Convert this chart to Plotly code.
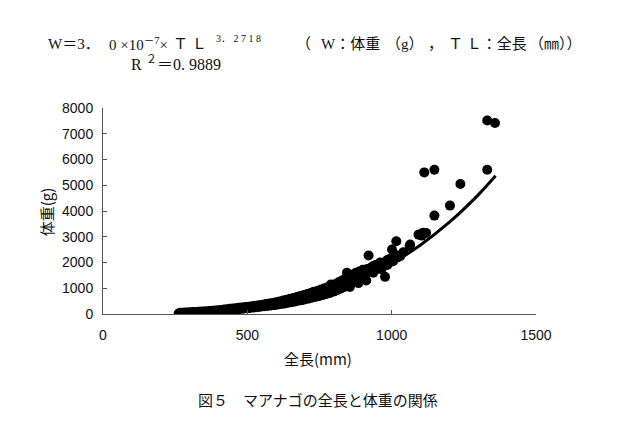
import plotly.graph_objects as go

# Observed data: total length (mm) and body weight (g)
TL = [262, 268, 272, 276, 280, 285, 290, 294, 298, 303, 308, 312, 317, 322, 327, 331, 336, 341, 346, 350,
      355, 360, 365, 370, 375, 380, 385, 390, 395, 400, 405, 410, 415, 420, 425, 430, 435, 440, 445, 450,
      455, 460, 465, 470, 475, 480, 486, 492, 498, 504, 510, 516, 522, 528, 534, 540, 546, 552, 558, 564,
      570, 576, 582, 588, 594, 600, 606, 612, 618, 624, 630, 636, 642, 648, 654, 660, 666, 672, 678, 684,
      690, 696, 702, 708, 714, 720, 726, 732, 738, 744, 750, 756, 762, 768, 774, 780, 786, 792, 798, 804,
      810, 816, 822, 828, 834, 840, 846, 852, 858, 864, 870, 876, 882, 888, 894, 900, 906, 912, 920, 920,
      928, 936, 944, 952, 960, 968, 977, 985, 993, 1001, 1008, 1016, 1029, 1040, 1062, 1093, 1104, 1119,
      1148, 1113, 1148, 1202, 1238, 1331, 1331, 1358,
      845, 855, 870, 885, 905, 915, 925, 935, 945, 955, 965, 975, 985, 995, 1005, 1012, 1020, 1064, 1109,
      760, 790, 820, 700, 730]
W = [20, 45, 25, 50, 30, 55, 35, 60, 40, 65, 45, 75, 50, 80, 60, 85, 65, 95, 70, 100,
     75, 105, 85, 115, 90, 125, 100, 135, 110, 150, 120, 160, 130, 170, 140, 185, 150, 200, 160, 210,
     170, 225, 180, 240, 195, 255, 205, 270, 220, 285, 235, 300, 250, 320, 265, 340, 280, 360, 300, 385,
     310, 405, 330, 430, 345, 460, 370, 490, 390, 520, 410, 550, 440, 590, 460, 620, 490, 660, 520, 700,
     540, 740, 570, 780, 600, 820, 640, 850, 670, 900, 700, 950, 740, 1000, 780, 1050, 820, 1100, 870, 1160,
     920, 1230, 980, 1300, 1040, 1370, 1100, 1440, 1160, 1520, 1230, 1600, 1300, 1650, 1370, 1720, 1440, 1300, 1700, 2270,
     1800, 1600, 1900, 1750, 2000, 1850, 1443, 2100, 2000, 2502, 2300, 2824, 2242, 2400, 2630, 3084, 3045, 3150,
     3821, 5500, 5605, 4209, 5050, 5605, 7517, 7417,
     1600, 1050, 1500, 1200, 1600, 1750, 1650, 1850, 1800, 1950, 1750, 2000, 1900, 2150, 2050, 2300, 2200, 2696, 3160,
     920, 1150, 1200, 700, 860]

# Fitted curve W = 3.0e-7 * TL^3.2718 (values as read/stated)
curve_TL = [270, 400, 500, 600, 700, 800, 900, 1000, 1100, 1200, 1300, 1360]
curve_W = [27, 98, 203, 369, 611, 945, 1389, 1962, 2680, 3564, 4627, 5365]

x_ticks = [0, 500, 1000, 1500]
y_ticks = [0, 1000, 2000, 3000, 4000, 5000, 6000, 7000, 8000]

fig = go.Figure()
fig.add_trace(go.Scatter(x=curve_TL, y=curve_W, mode="lines", line=dict(color="black", width=3, shape="spline"),
                         showlegend=False, hoverinfo="skip"))
fig.add_trace(go.Scatter(x=TL, y=W, mode="markers", marker=dict(color="black", size=10, line=dict(width=0)),
                         showlegend=False))

# plot-area geometry (pixels) used to place the free texts
L, R, T, B = 102.5, 536.0, 108.0, 314.5
PW, PH = R - L, B - T


def px(x):
    return (x - L) / PW


def py(y):
    return (B - y) / PH


tickfont = dict(family="Liberation Sans, Arial, sans-serif", size=14, color="#111")
serif = dict(family="Liberation Serif, Noto Sans CJK JP, serif", size=15, color="#111")
small = dict(family="Liberation Serif, Noto Sans CJK JP, serif", size=10, color="#111")
gothic = dict(family="Noto Sans CJK JP, sans-serif", size=15, color="#111")


def note(text, x, y, font, xanchor="left", **kw):
    return dict(text=text, xref="paper", yref="paper", x=px(x), y=py(y), xanchor=xanchor,
                yanchor="middle", showarrow=False, font=font, **kw)


fig.update_layout(
    width=623, height=427,
    margin=dict(l=L, r=623 - R, t=T, b=427 - B),
    paper_bgcolor="white", plot_bgcolor="white",
    xaxis=dict(range=[0, 1500], tickvals=x_ticks, ticktext=[str(v) for v in x_ticks],
               showgrid=False, zeroline=False, showline=True, linecolor="#555", linewidth=1,
               ticks="inside", ticklen=4, tickcolor="#555", tickfont=tickfont, ticklabelstandoff=8),
    yaxis=dict(range=[0, 8000], tickvals=y_ticks, ticktext=[str(v) for v in y_ticks],
               showgrid=False, zeroline=False, showline=True, linecolor="#555", linewidth=1,
               ticks="inside", ticklen=4, tickcolor="#555", tickfont=tickfont, ticklabelstandoff=6),
    annotations=[
        note("W＝3．", 45, 44, serif),
        note("0 ×10<sup>－7</sup>×", 107, 44, serif),
        note("Ｔ Ｌ", 171, 44, serif),
        note("3． 2 7 1 8", 214, 38, small),
        note("（", 294, 44, serif),
        note("W：体重", 319, 44, serif),
        note("（g）", 384, 44, serif),
        note("，", 426, 44, serif),
        note("Ｔ Ｌ：全長", 446, 44, serif),
        note("（㎜））", 527, 44, serif),
        note("R <sup>２</sup>＝0. 9889", 129, 63, dict(serif, size=16)),
        note("体重(g)", 46, 212, gothic, xanchor="center", textangle=-90),
        note("全長(mm)", 318, 359, gothic, xanchor="center"),
        note("図５　マアナゴの全長と体重の関係", 318, 400, gothic, xanchor="center"),
    ],
)

fig.write_html("out.html")
